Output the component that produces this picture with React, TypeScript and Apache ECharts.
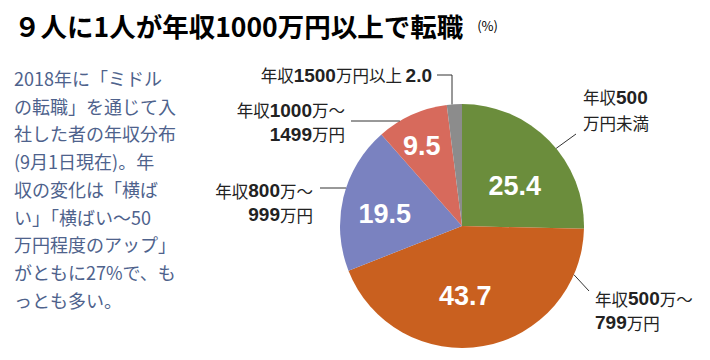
import React, { useEffect, useRef } from "react";
import * as echarts from "echarts";

// ---- data ----
const categories = [
  "年収500万円未満",
  "年収500万〜799万円",
  "年収800万〜999万円",
  "年収1000万〜1499万円",
  "年収1500万円以上",
];
const values = [25.4, 43.7, 19.5, 9.5, 2.0];
const labelTexts = [
  "年収500\n万円未満",
  "年収500万〜\n799万円",
  "年収800万〜\n999万円",
  "年収1000万〜\n1499万円",
  "年収1500万円以上 ",
];
const showValueInLabel = [false, false, false, false, true];
const showInsideValue = [true, true, true, true, false];
const titleText = "９人に1人が年収1000万円以上で転職";
const unitText = "(%)";
const noteLines = [
  "2018年に「ミドル",
  "の転職」を通じて入",
  "社した者の年収分布",
  "(9月1日現在)。年",
  "収の変化は「横ば",
  "い」「横ばい～50",
  "万円程度のアップ」",
  "がともに27%で、も",
  "っとも多い。",
];

// ---- styles / layout ----
const colors = ["#6b8d3c", "#c9601f", "#7a82c0", "#d76a5c", "#8c8c8c"];
const CX = 462;
const CY = 226;
const R = 122;
const JP = '"Noto Sans CJK JP", "Noto Sans CJK SC", sans-serif';
const NUM = '"Liberation Sans", Arial, sans-serif';

// offsets of the inside value labels from their default (mid-radius) place
const insideOffsets: [number, number][] = [
  [7, 5],
  [-8, 7],
  [-15, 3],
  [-14, -22],
  [0, 0],
];

const polar = (deg: number, r: number): [number, number] => {
  const a = (deg * Math.PI) / 180;
  return [CX + r * Math.sin(a), CY - r * Math.cos(a)];
};
const edgeAtY = (y: number, side: number): [number, number] => [
  CX + side * Math.sqrt(R * R - (y - CY) * (y - CY)),
  y,
];
const edgeAtX = (x: number): [number, number] => [
  x,
  CY - Math.sqrt(R * R - (x - CX) * (x - CX)),
];

const outsideLayout = [
  { x: 583, y: 110, align: "left", style: "g", line: [polar(50.5, R), [576, 134]] },
  { x: 595, y: 310.5, align: "left", style: "l", line: [polar(113.5, R), [589, 291]] },
  { x: 313, y: 202.5, align: "right", style: "r", line: [edgeAtY(188, -1), [320, 188]] },
  { x: 345, y: 122, align: "right", style: "r", line: [edgeAtY(121, -1), [351, 121]] },
  { x: 432, y: 75, align: "right", style: "r", line: [edgeAtX(452), [452, 75], [437, 75]] },
];

function richify(text: string, variant: string): string {
  return text
    .split("\n")
    .map((line) =>
      (line.match(/[0-9.]+|[^0-9.]+/g) || [])
        .map((run) => (/^[0-9.]+$/.test(run) ? `{${variant}b|${run}}` : `{${variant}n|${run}}`))
        .join("")
    )
    .join("\n");
}

const richStyle = (align: string, bold: boolean, lh: number) => ({
  align,
  fontFamily: bold ? NUM : JP,
  fontSize: bold ? 19 : 16.5,
  fontWeight: bold ? "bold" : "normal",
  color: "#222",
  lineHeight: lh,
});

export default function App() {
  const ref = useRef<HTMLDivElement>(null);
  useEffect(() => {
    if (!ref.current) return;
    const chart = echarts.init(ref.current, null, { renderer: "svg" });
    const option: any = {
      animation: false,
      backgroundColor: "#ffffff",
      graphic: [
        {
          type: "text",
          x: 14,
          y: 25,
          style: {
            text: `{t|${titleText}}{u|${unitText}}`,
            verticalAlign: "middle",
            rich: {
              t: { fontFamily: JP, fontSize: 26.5, fontWeight: "bold", color: "#1e1e1e" },
              u: { fontFamily: JP, fontSize: 13, color: "#444", padding: [0, 0, 0, 14] },
            },
          },
        },
        {
          type: "text",
          x: 14,
          y: 64,
          style: {
            text: noteLines.join("\n"),
            fontFamily: JP,
            fontSize: 18,
            lineHeight: 27.75,
            fill: "#4e628c",
            verticalAlign: "top",
          },
        },
      ],
      series: [
        {
          type: "pie",
          center: [CX, CY],
          radius: R,
          startAngle: 90,
          clockwise: true,
          silent: true,
          emphasis: { disabled: true },
          itemStyle: { borderWidth: 0 },
          data: values.map((v, i) => ({
            name: categories[i],
            value: v,
            itemStyle: { color: colors[i] },
            label: { show: showInsideValue[i] },
          })),
          label: {
            show: true,
            position: "inside",
            formatter: (p: any) => Number(p.value).toFixed(1),
            color: "#fff",
            fontFamily: NUM,
            fontWeight: "bold",
            fontSize: 27,
          },
          labelLine: { show: false },
          labelLayout: (p: any) => {
            const o = insideOffsets[p.dataIndex];
            const r = p.labelRect;
            return {
              x: r.x + r.width / 2 + o[0],
              y: r.y + r.height / 2 + o[1],
              align: "center",
              verticalAlign: "middle",
            };
          },
        },
        {
          type: "pie",
          center: [CX, CY],
          radius: R,
          startAngle: 90,
          clockwise: true,
          silent: true,
          z: 3,
          emphasis: { disabled: true },
          itemStyle: { borderWidth: 0, color: "rgba(0,0,0,0)" },
          data: values.map((v, i) => ({
            name: categories[i],
            value: v,
          })),
          label: {
            show: true,
            position: "outside",
            formatter: (p: any) => {
              const i = p.dataIndex;
              const st = outsideLayout[i].style;
              let s = richify(labelTexts[i], st);
              if (showValueInLabel[i]) s += `{${st}b|${Number(p.value).toFixed(1)}}`;
              return s;
            },
            rich: {
              ln: richStyle("left", false, 24),
              lb: richStyle("left", true, 24),
              gn: richStyle("left", false, 26),
              gb: richStyle("left", true, 26),
              rn: richStyle("right", false, 24),
              rb: richStyle("right", true, 24),
            },
          },
          labelLine: {
            show: true,
            length: 10,
            length2: 10,
            lineStyle: { color: "#333", width: 1 },
          },
          labelLayout: (p: any) => {
            const c = outsideLayout[p.dataIndex];
            return {
              x: c.x,
              y: c.y,
              align: c.align,
              verticalAlign: "middle",
              labelLinePoints: c.line,
            };
          },
        },
      ],
    };
    chart.setOption(option);
    return () => chart.dispose();
  }, []);
  return (
    <div
      ref={ref}
      style={{ position: "fixed", left: 0, top: 0, width: 710, height: 360, background: "#fff" }}
    />
  );
}
